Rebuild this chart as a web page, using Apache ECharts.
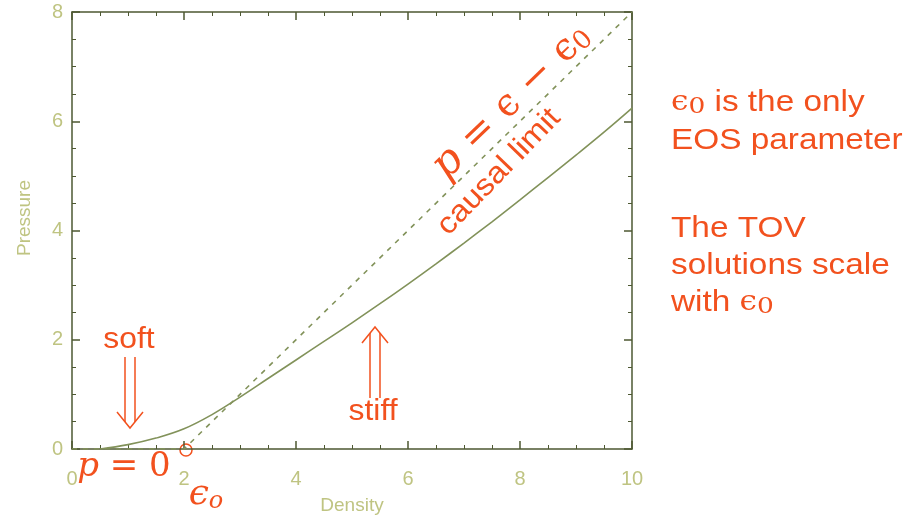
<!DOCTYPE html>
<html>
<head>
<meta charset="utf-8">
<script src="https://cdn.jsdelivr.net/npm/echarts@6/dist/echarts.min.js"></script>
<style>html,body{margin:0;padding:0;background:#fff;overflow:hidden}#c{width:918px;height:519px}</style>
</head>
<body>
<div id="c"></div>
<script>
// Density values of the EOS curve and its pressure
var density = [0.5, 1.0, 1.5, 2.0, 2.5, 3.0, 3.5, 4.0, 4.5, 5.0, 5.5, 6.0, 6.5, 7.0, 7.5, 8.0, 8.5, 9.0, 9.5, 10.0];
var pressure = [0.0, 0.08, 0.2, 0.37, 0.63, 0.95, 1.29, 1.63, 1.97, 2.31, 2.66, 3.02, 3.39, 3.77, 4.16, 4.56, 4.97, 5.38, 5.80, 6.24];
// causal limit p = eps - eps0 (eps0 = 2), p = 0 below eps0
var causalDensity = [0, 2, 10];
var causalPressure = [0, 0, 8];
var xTicks = [0, 2, 4, 6, 8, 10];
var yTicks = [0, 2, 4, 6, 8];

var AX = '#4d5832', LBL = '#bfc482', CURVE = '#82925a', OR = '#f2511e';
var chart = echarts.init(document.getElementById('c'), null, { width: 918, height: 519 });
function zip(a, b) { return a.map(function (v, i) { return [v, b[i]]; }); }
var axisBase = {
  type: 'value', min: xTicks[0], max: xTicks[xTicks.length - 1], interval: 2,
  axisLine: { show: true, onZero: false, lineStyle: { color: AX, width: 1.5 } },
  axisTick: { show: true, inside: true, length: 8, lineStyle: { color: AX, width: 1.5 } },
  minorTick: { show: true, splitNumber: 4, length: 4, lineStyle: { color: AX, width: 1 } },
  splitLine: { show: false }
};
function ax(extra) { return Object.assign({}, JSON.parse(JSON.stringify(axisBase)), extra); }
var sans = 'Liberation Sans, Arial, sans-serif';
var serif = 'DejaVu Serif, Liberation Serif, serif';
var epsRich = { e: { fill: OR, fontFamily: serif, fontSize: 27 }, s: { fill: OR, fontFamily: serif, fontSize: 23, padding: [9, 0, 0, 0] } };
function rt(y, text) {
  return { type: 'text', x: 671, y: y, scaleX: 1.15, style: { text: text, textVerticalAlign: 'middle', fill: OR, font: '29px ' + sans, rich: epsRich } };
}
chart.setOption({
  backgroundColor: '#fff',
  animation: false,
  grid: { left: 72, right: 286, top: 12, bottom: 70, containLabel: false, outerBoundsMode: 'none' },
  xAxis: [
    ax({ position: 'bottom', name: 'Density', nameLocation: 'middle', nameGap: 47,
      nameTextStyle: { color: LBL, fontSize: 19, fontFamily: sans },
      axisLabel: { color: LBL, fontSize: 20, fontFamily: sans, margin: 20,
        formatter: function (v) { return xTicks.indexOf(v) >= 0 ? String(v) : ''; } } }),
    ax({ position: 'top', axisLabel: { show: false } })
  ],
  yAxis: [
    ax({ min: yTicks[0], max: yTicks[yTicks.length - 1], position: 'left',
      axisLabel: { color: LBL, fontSize: 20, fontFamily: sans, margin: 9,
        formatter: function (v) { return yTicks.indexOf(v) >= 0 ? String(v) : ''; } } }),
    ax({ min: yTicks[0], max: yTicks[yTicks.length - 1], position: 'right', axisLabel: { show: false } })
  ],
  series: [
    { type: 'line', data: zip(density, pressure), smooth: 0.4, showSymbol: false,
      lineStyle: { color: CURVE, width: 1.6 } },
    { type: 'line', data: zip(causalDensity, causalPressure), showSymbol: false,
      lineStyle: { color: CURVE, width: 1.6, type: [5, 6] } }
  ],
  graphic: [
    { type: 'text', x: 25, y: 218, rotation: Math.PI / 2, style: { text: 'Pressure', fill: LBL, font: '19px ' + sans, textAlign: 'center', textVerticalAlign: 'middle' } },
    { type: 'text', x: 129, y: 340, scaleX: 1.1, style: { text: 'soft', fill: OR, font: '29px ' + sans, textAlign: 'center', textVerticalAlign: 'middle' } },
    { type: 'line', shape: { x1: 125, y1: 357, x2: 125, y2: 422 }, style: { stroke: OR, lineWidth: 1.5 } },
    { type: 'line', shape: { x1: 135, y1: 357, x2: 135, y2: 422 }, style: { stroke: OR, lineWidth: 1.5 } },
    { type: 'polyline', shape: { points: [[117, 412], [130, 428], [143, 412]] }, style: { stroke: OR, lineWidth: 1.5, fill: null } },
    { type: 'text', x: 373, y: 412, scaleX: 1.1, style: { text: 'stiff', fill: OR, font: '29px ' + sans, textAlign: 'center', textVerticalAlign: 'middle' } },
    { type: 'line', shape: { x1: 370, y1: 333, x2: 370, y2: 398 }, style: { stroke: OR, lineWidth: 1.5 } },
    { type: 'line', shape: { x1: 380, y1: 333, x2: 380, y2: 398 }, style: { stroke: OR, lineWidth: 1.5 } },
    { type: 'polyline', shape: { points: [[362, 343], [375, 327], [388, 343]] }, style: { stroke: OR, lineWidth: 1.5, fill: null } },
    { type: 'circle', shape: { cx: 186, cy: 450, r: 6 }, style: { stroke: OR, lineWidth: 1.5, fill: null } },
    { type: 'text', x: 124, y: 467, style: { text: '{i|p} = 0', textAlign: 'center', textVerticalAlign: 'middle',
        rich: { i: { fill: OR, fontFamily: serif, fontStyle: 'italic', fontSize: 34 } }, fill: OR, font: '34px ' + serif } },
    { type: 'text', x: 206, y: 495, style: { text: '{e|ϵ}{s|o}', textAlign: 'center', textVerticalAlign: 'middle',
        rich: { e: { fill: OR, fontFamily: serif, fontStyle: 'italic', fontSize: 36 }, s: { fill: OR, fontFamily: serif, fontStyle: 'italic', fontSize: 24, padding: [14, 0, 0, 0] } } } },
    { type: 'text', x: 512, y: 102, rotation: 44 * Math.PI / 180,
      style: { text: '{i|p} = {e|ϵ} − {e|ϵ}{s|0}', textAlign: 'center', textVerticalAlign: 'middle', fill: OR, font: '40px ' + serif,
        rich: { i: { fill: OR, fontFamily: serif, fontStyle: 'italic', fontSize: 42 }, e: { fill: OR, fontFamily: serif, fontSize: 38 }, s: { fill: OR, fontFamily: serif, fontSize: 26, padding: [12, 0, 0, 0] } } } },
    { type: 'text', x: 499, y: 172, rotation: 46 * Math.PI / 180, scaleX: 1.1,
      style: { text: 'causal limit', textAlign: 'center', textVerticalAlign: 'middle', fill: OR, font: '30px ' + sans } },
    rt(103, '{e|ϵ}{s|0} is the only'),
    rt(141, 'EOS parameter'),
    rt(229, 'The TOV'),
    rt(266, 'solutions scale'),
    rt(303, 'with {e|ϵ}{s|0}')
  ]
});
</script>
</body>
</html>
